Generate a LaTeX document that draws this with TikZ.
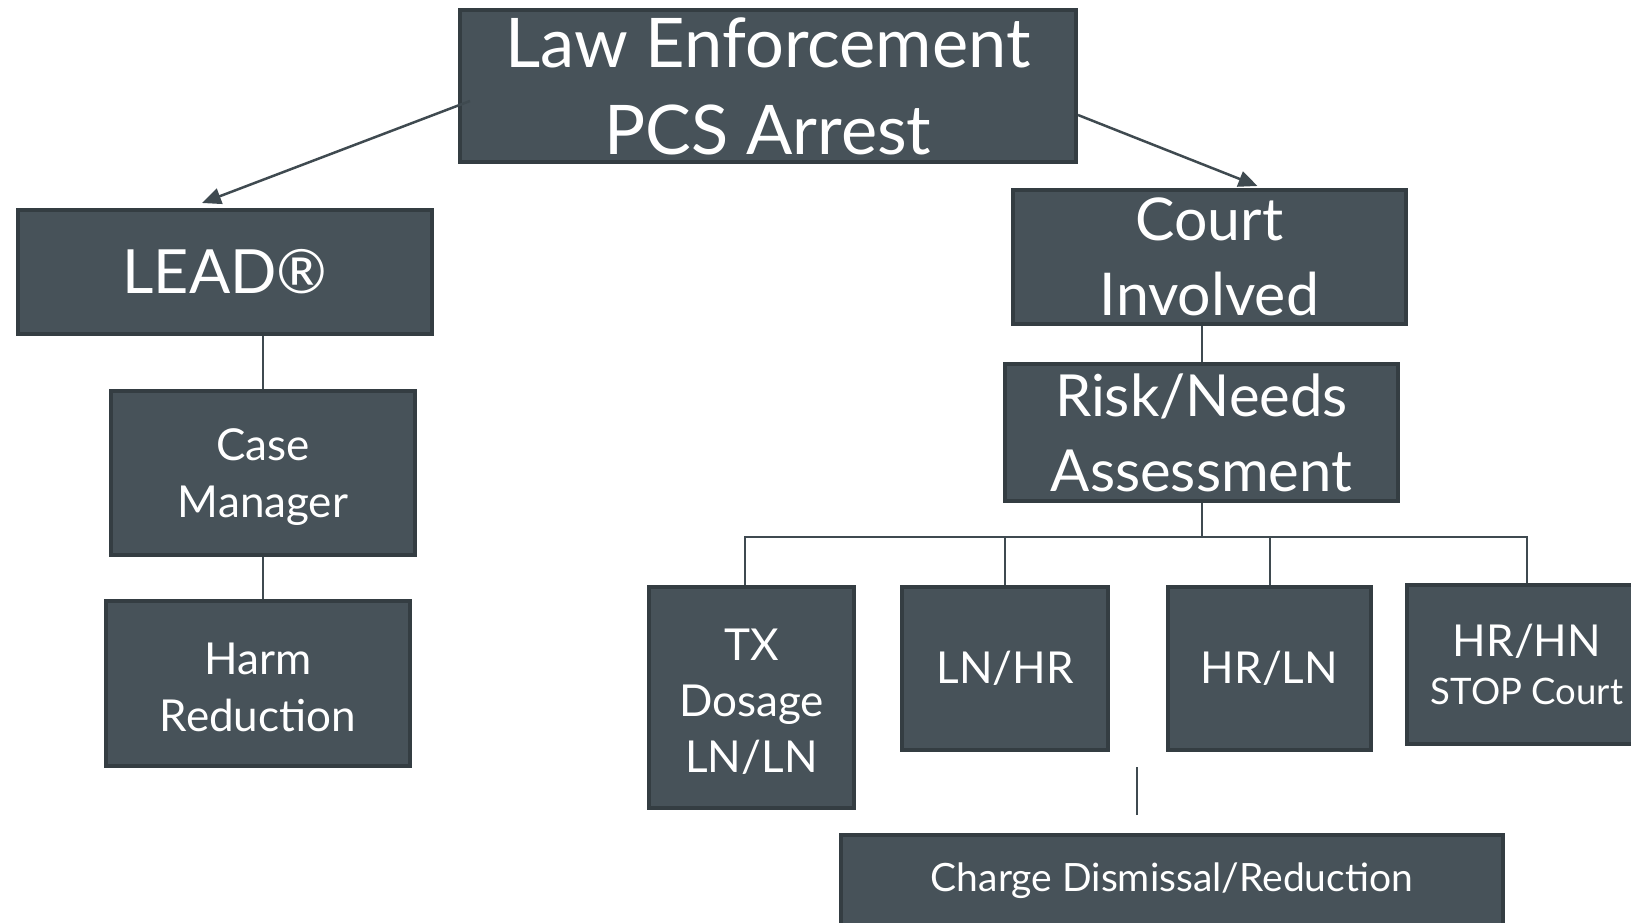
\documentclass[tikz,border=0pt]{standalone}
\usepackage{fontspec}
\setmainfont{Lato}
\usetikzlibrary{shapes,arrows,arrows.meta}
\definecolor{boxfill}{HTML}{475259}
\definecolor{boxedge}{HTML}{343D42}
\definecolor{wire}{HTML}{3F4A50}
\tikzstyle{block} = [rectangle, draw=boxedge, line width=4pt, fill=boxfill,
    text=white, align=center, inner sep=0pt]
\tikzstyle{line} = [draw=wire, line width=2.5pt, -{Triangle[length=19pt,width=16pt]}]
\tikzstyle{link} = [draw=wire, line width=2pt]

\begin{document}
\begin{tikzpicture}[node distance = 2cm, auto]
    \useasboundingbox (0,0) rectangle (1631pt,-922pt);
    % Place nodes
    \node [block, minimum width=616pt, minimum height=152pt,
        font=\fontsize{68.5}{87}\selectfont] (law) at (768pt,-86pt) {Law Enforcement\\PCS Arrest};
    \node [block, below of=law, node distance=186pt, xshift=-543pt,
        minimum width=414pt, minimum height=124pt,
        font=\fontsize{61}{75}\selectfont] (lead) {LEAD®};
    \node [block, below of=lead, node distance=201pt, xshift=38pt,
        minimum width=304pt, minimum height=164pt,
        font=\fontsize{44}{57}\selectfont] (case) {\strut Case\\Manager};
    \node [block, below of=case, node distance=210.5pt, xshift=-5pt,
        minimum width=304pt, minimum height=165pt,
        font=\fontsize{44}{57}\selectfont] (harm) {\strut Harm\\Reduction};
    \node [block, below of=law, node distance=171pt, xshift=441.5pt,
        minimum width=393pt, minimum height=134pt,
        font=\fontsize{59}{75}\selectfont] (court) {Court\\Involved};
    \node [block, below of=court, node distance=175.5pt, xshift=-8pt,
        minimum width=393pt, minimum height=137pt,
        font=\fontsize{58}{75}\selectfont] (risk) {Risk/Needs\\Assessment};
    \node [block, below of=risk, node distance=236pt, xshift=-196.5pt,
        minimum width=206pt, minimum height=163pt,
        font=\fontsize{44}{57}\selectfont] (lnhr) {LN/HR};
    \node [block, left of=lnhr, node distance=253.5pt, yshift=-29pt,
        minimum width=205pt, minimum height=221pt,
        font=\fontsize{44}{56}\selectfont] (tx) {\strut TX\\Dosage\\LN/LN};
    \node [block, right of=lnhr, node distance=264.5pt,
        minimum width=203pt, minimum height=163pt,
        font=\fontsize{44}{57}\selectfont] (hrln) {HR/LN};
    \node [block, right of=hrln, node distance=257.5pt, yshift=4pt,
        minimum width=240pt, minimum height=159pt,
        font=\fontsize{44}{48}\selectfont] (hrhn) {HR/HN\\{\fontsize{36.5}{45}\selectfont STOP Court}};
    \node [block, below of=lnhr, node distance=211.5pt, xshift=167pt,
        minimum width=662pt, minimum height=90pt,
        font=\fontsize{39}{57}\selectfont] (charge) {\strut Charge Dismissal/Reduction};
    \coordinate (split) at ([yshift=-34pt]risk.south);
    \coordinate (stub) at ([xshift=-35pt,yshift=18pt]charge.north);

    % Draw edges
    \path [line] ([xshift=12pt,yshift=-15pt]law.west) -- ([xshift=-23pt,yshift=5pt]lead.north);
    \path [line] ([yshift=-29pt]law.east) -- ([xshift=48pt,yshift=2pt]court.north);
    \path [link] (case.north |- lead.south) -- (case.north);
    \path [link] (case.south) -- (case.south |- harm.north);
    \path [link] (risk.north |- court.south) -- (risk.north);
    \path [link] (risk.south) -- (split);
    \path [link] (split) -| ([xshift=-6.5pt]tx.north);
    \path [link] (split) -| (lnhr.north);
    \path [link] (split) -| (hrln.north);
    \path [link] (split) -| (hrhn.north);
    \path [link] (stub) -- ++(0,48pt);

\end{tikzpicture}
\end{document}
